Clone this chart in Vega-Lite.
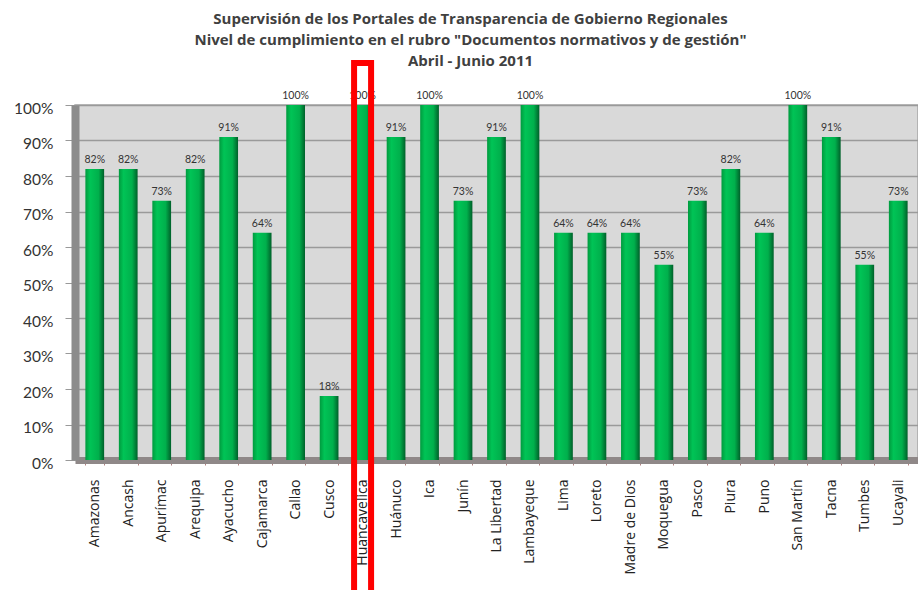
{
  "$schema": "https://vega.github.io/schema/vega-lite/v6.json",
  "width": 843,
  "height": 355,
  "autosize": {"type": "none"},
  "padding": {"left": 75, "top": 105, "right": 0, "bottom": 130},
  "background": "#ffffff",
  "title": {
    "text": ["Supervisión de los Portales de Transparencia  de Gobierno Regionales", "Nivel de cumplimiento en el rubro \"Documentos normativos y de gestión\"", "Abril - Junio 2011"],
    "frame": "group",
    "anchor": "middle",
    "dx": -26,
    "dy": 47,
    "offset": 38,
    "font": "Open Sans",
    "fontSize": 15,
    "fontWeight": "bold",
    "color": "#404040",
    "lineHeight": 21
  },
  "config": {
    "view": {"fill": "#d9d9d9", "stroke": "#a6a6a6", "strokeWidth": 1.5},
    "font": "Lato"
  },
  "data": {
    "values": [
      {"region": "Amazonas", "value": 0.82},
      {"region": "Ancash", "value": 0.82},
      {"region": "Apurímac", "value": 0.73},
      {"region": "Arequipa", "value": 0.82},
      {"region": "Ayacucho", "value": 0.91},
      {"region": "Cajamarca", "value": 0.64},
      {"region": "Callao", "value": 1.0},
      {"region": "Cusco", "value": 0.18},
      {"region": "Huancavelica", "value": 1.0},
      {"region": "Huánuco", "value": 0.91},
      {"region": "Ica", "value": 1.0},
      {"region": "Junín", "value": 0.73},
      {"region": "La Libertad", "value": 0.91},
      {"region": "Lambayeque", "value": 1.0},
      {"region": "Lima", "value": 0.64},
      {"region": "Loreto", "value": 0.64},
      {"region": "Madre de Dios", "value": 0.64},
      {"region": "Moquegua", "value": 0.55},
      {"region": "Pasco", "value": 0.73},
      {"region": "Piura", "value": 0.82},
      {"region": "Puno", "value": 0.64},
      {"region": "San Martín", "value": 1.0},
      {"region": "Tacna", "value": 0.91},
      {"region": "Tumbes", "value": 0.55},
      {"region": "Ucayali", "value": 0.73}
    ]
  },
  "encoding": {
    "x": {
      "field": "region",
      "type": "nominal",
      "sort": null,
      "title": null,
      "scale": {"paddingInner": 0.44, "paddingOuter": 0.31},
      "axis": {
        "labelAngle": -90,
        "labelFontSize": 14,
        "labelColor": "#222222",
        "labelPadding": 14,
        "domainColor": "#8f8888",
        "domainWidth": 7,
        "tickColor": "#b08080",
        "tickSize": 5,
        "tickBand": "extent",
        "labelFont": "Open Sans"
      }
    },
    "y": {
      "field": "value",
      "type": "quantitative",
      "title": null,
      "scale": {"domain": [0, 1], "nice": false},
      "axis": {
        "values": [0, 0.1, 0.2, 0.3, 0.4, 0.5, 0.6, 0.7, 0.8, 0.9, 1],
        "format": ".0%",
        "labelFontSize": 15.5,
        "labelColor": "#333333",
        "labelPadding": 12,
        "labelFont": "Lato",
        "labelOffset": 3,
        "domainColor": "#8c8c8c",
        "domainWidth": 8,
        "tickColor": "#999999",
        "tickSize": 10,
        "gridColor": "#9a9a9a",
        "gridWidth": 1.5
      }
    }
  },
  "layer": [
    {
      "mark": {
        "type": "bar",
        "color": {
          "x1": 0, "y1": 0, "x2": 1, "y2": 0,
          "gradient": "linear",
          "stops": [
            {"offset": 0, "color": "#009a3e"},
            {"offset": 0.25, "color": "#00c456"},
            {"offset": 0.7, "color": "#00b04c"},
            {"offset": 1, "color": "#00602a"}
          ]
        }
      }
    },
    {
      "mark": {"type": "text", "dy": -9, "fontSize": 10.5, "color": "#333333", "font": "Lato"},
      "encoding": {"text": {"field": "value", "type": "quantitative", "format": ".0%"}}
    },
    {
      "transform": [{"filter": "datum.region === 'Huancavelica'"}],
      "mark": {"type": "bar", "width": 17, "fill": null, "fillOpacity": 0, "stroke": "#ff0000", "strokeWidth": 6, "clip": false},
      "encoding": {
        "y": {"datum": 1.118, "type": "quantitative"},
        "y2": {"datum": -0.38}
      }
    }
  ]
}
